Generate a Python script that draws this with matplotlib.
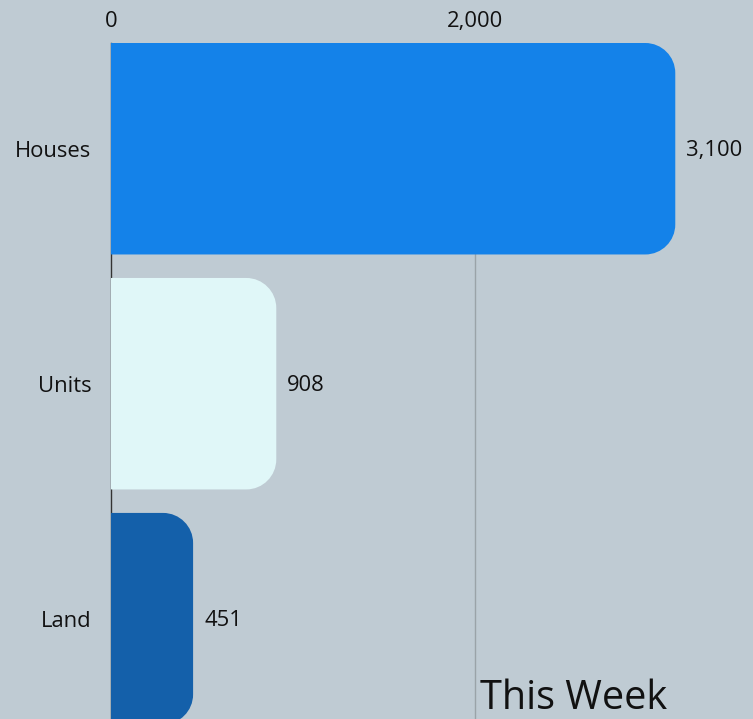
import matplotlib
matplotlib.use("Agg")
import matplotlib.pyplot as plt
from matplotlib.path import Path
from matplotlib.patches import PathPatch
from matplotlib.transforms import IdentityTransform

categories = ["Houses", "Units", "Land"]
values = [3100, 908, 451]
colors = ["#1482E9", "#E0F7F8", "#1460AA"]
tick_values = [0, 2000]
tick_labels = ["0", "2,000"]
title = "This Week"

BG = "#BFCBD3"
FONT = "Open Sans"
FS = 15.8
W, H = 753, 719
fig = plt.figure(figsize=(W / 100, H / 100), dpi=100, facecolor=BG)
ax = fig.add_axes([111 / W, 0, 1 - 111 / W, (719 - 43) / H])
ax.set_facecolor(BG)

ypos = list(range(len(categories)))
bars = ax.barh(ypos, values, height=0.9, color=colors, zorder=2)
ax.set_xlim(0, 3527)
ax.set_ylim(2.427, -0.45)

ax.xaxis.tick_top()
ax.set_xticks(tick_values)
ax.set_xticklabels(tick_labels, fontsize=FS, family=FONT, color="#111111")
ax.tick_params(axis="x", length=0, pad=8)
ax.set_yticks(ypos)
ax.set_yticklabels(categories, fontsize=FS, family=FONT, color="#111111")
ax.tick_params(axis="y", length=0, pad=14)
ax.grid(axis="x", color="#9aa3a8", lw=1, zorder=1)
ax.get_xgridlines()[0].set_visible(False)
for s in ["top", "right", "bottom"]:
    ax.spines[s].set_visible(False)
ax.spines["left"].set_color("#333333")
ax.spines["left"].set_linewidth(1.0)
ax.spines["left"].set_zorder(1)

fig.canvas.draw()

K = 0.5523
def rounded_right(x0, y0, x1, y1, r):
    r = min(r, (x1 - x0), (y1 - y0) / 2)
    verts = [(x0, y0), (x1 - r, y0),
             (x1 - r + K * r, y0), (x1, y0 + r - K * r), (x1, y0 + r),
             (x1, y1 - r),
             (x1, y1 - r + K * r), (x1 - r + K * r, y1), (x1 - r, y1),
             (x0, y1), (x0, y0)]
    codes = [Path.MOVETO, Path.LINETO,
             Path.CURVE4, Path.CURVE4, Path.CURVE4,
             Path.LINETO,
             Path.CURVE4, Path.CURVE4, Path.CURVE4,
             Path.LINETO, Path.CLOSEPOLY]
    return Path(verts, codes)

for b, v, c in zip(bars, values, colors):
    bb = b.get_window_extent()
    b.set_visible(False)
    p = PathPatch(rounded_right(bb.x0 - 0.5, bb.y0, bb.x1, bb.y1, 30),
                  transform=IdentityTransform(), facecolor=c, edgecolor="none",
                  zorder=3)
    p.set_clip_path(ax.patch)
    fig.add_artist(p)
    ax.annotate(f"{v:,}", xy=(v, b.get_y() + b.get_height() / 2),
                xytext=(11, -2), textcoords="offset pixels", va="center", ha="left",
                fontsize=FS, family=FONT, color="#111111", zorder=4)

fig.text(480 / W, 1 - 709 / H, title, fontsize=28.5, family=FONT,
         color="#111111", ha="left", va="baseline")

fig.savefig("out.png", dpi=100, facecolor=BG)
